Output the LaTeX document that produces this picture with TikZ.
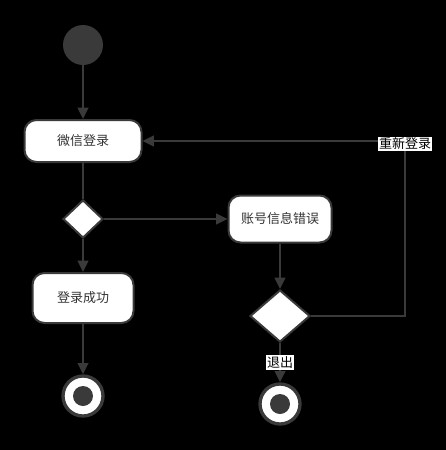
\documentclass[tikz,border=0pt]{standalone}
\usepackage{fontspec}
\newfontfamily\cjk{Noto Sans CJK SC}
\usepackage{xcolor}
\usetikzlibrary{positioning, arrows.meta, shapes.geometric}

\definecolor{linegray}{RGB}{58,58,58}
\definecolor{textgray}{RGB}{51,51,51}

\begin{document}
\begin{tikzpicture}[x=0.75pt, y=-0.75pt,
  font=\cjk\fontsize{9.75pt}{12pt}\selectfont,
  flow/.style={draw=linegray, line width=1.5pt, -{Triangle[length=8.5pt, width=8pt]}},
  plain/.style={draw=linegray, line width=1.5pt},
  activity/.style={rectangle, rounded corners=9pt, draw=linegray, line width=1.5pt,
    fill=white, text=textgray, inner sep=0pt},
  choice/.style={diamond, draw=linegray, line width=1.5pt, fill=white, inner sep=0pt},
  tag/.style={fill=white, text=black, inner sep=1pt}]
  % Background
  \fill[black] (0,0) rectangle (446,450);
  \useasboundingbox (0,0) rectangle (446,450);
  % Start
  \node[circle, fill=linegray, minimum size=30pt, inner sep=0pt] (start) at (83,45) {};
  % Activities
  \node[activity, minimum width=87.75pt, minimum height=31.5pt] (login) at (83,141) {微信登录};
  \node[activity, minimum width=77.25pt, minimum height=35.25pt] (wrong) at (280,219) {账号信息错误};
  \node[activity, minimum width=75.75pt, minimum height=37.5pt] (ok) at (83,298) {登录成功};
  % Decisions
  \node[choice, minimum width=30pt, minimum height=28.5pt] (check) at (83,219) {};
  \node[choice, minimum width=45pt, minimum height=39pt] (retry) at (280,316) {};
  % Ends
  \node[circle, draw=linegray, line width=2.5pt, fill=white, minimum size=30pt, inner sep=0pt] (endok) at (83,396) {};
  \node[circle, fill=linegray, minimum size=15pt, inner sep=0pt] at (endok) {};
  \node[circle, draw=linegray, line width=2.5pt, fill=white, minimum size=30pt, inner sep=0pt] (endquit) at (280,404) {};
  \node[circle, fill=linegray, minimum size=15pt, inner sep=0pt] at (endquit) {};
  % Flows
  \draw[flow] (start) -- (login);
  \draw[plain] (login) -- (check);
  \draw[flow] (check) -- (ok);
  \draw[flow] (check) -- (wrong);
  \draw[flow] (ok) -- (endok);
  \draw[flow] (wrong) -- (retry);
  \draw[flow] (retry) -- node[tag] {退出} (endquit);
  \coordinate (corner) at (405,141);
  \draw[flow] (retry.east) -| (corner) -- (login.east);
  \node[tag] (again) at (405,144) {重新登录};
\end{tikzpicture}
\end{document}
